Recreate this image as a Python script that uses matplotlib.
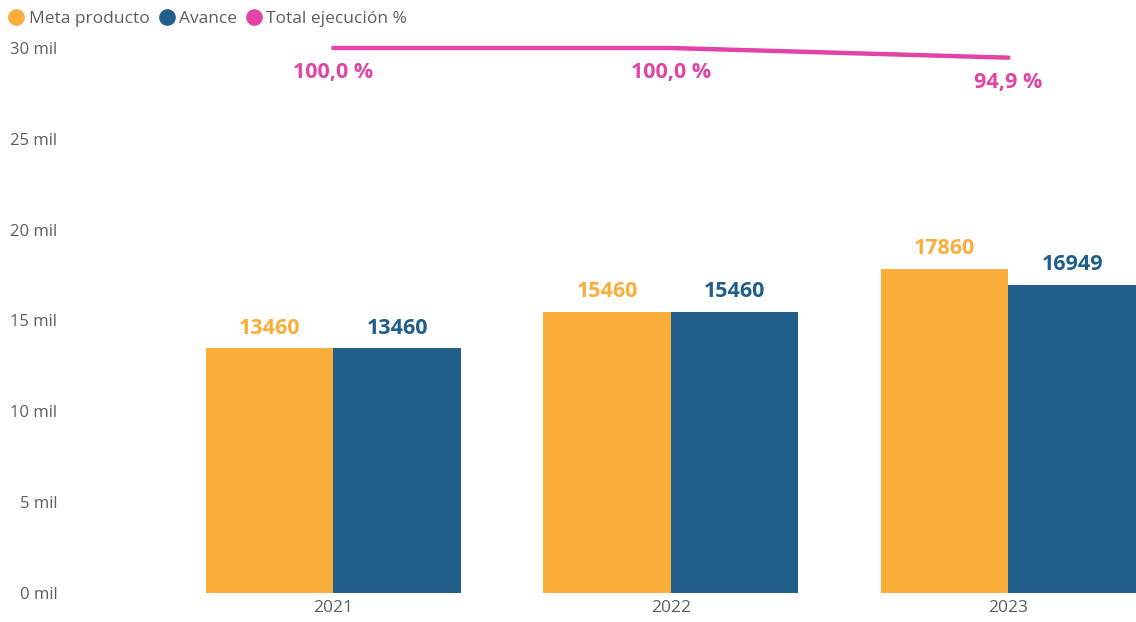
import matplotlib.pyplot as plt
import numpy as np
from matplotlib.ticker import FuncFormatter
from matplotlib.lines import Line2D

# datos
years = ['2021', '2022', '2023']
meta = [13460, 15460, 17860]
avance = [13460, 15460, 16949]
ejecucion = [100.0, 100.0, 94.9]
y_ticks = [0, 5000, 10000, 15000, 20000, 25000, 30000]

c_meta = '#F9AE3B'
c_avance = '#215F8A'
c_pct = '#E044A7'
c_text = '#605E5C'

plt.rcParams['font.family'] = ['Open Sans', 'DejaVu Sans']

fig = plt.figure(figsize=(11.36, 6.22), dpi=100)
# ejes en pixeles: izquierda 70, derecha 1136, abajo 593, arriba 48
ax = fig.add_axes([70 / 1136, (622 - 593) / 622, (1136 - 70) / 1136, (593 - 48) / 622])

x = np.arange(len(years))
w = 0.378
b1 = ax.bar(x - w / 2, meta, w, color=c_meta)
b2 = ax.bar(x + w / 2, avance, w, color=c_avance)

for bar, v in zip(b1, meta):
    ax.annotate(f'{v}', (bar.get_x() + bar.get_width() / 2, v), xytext=(0, 7),
                textcoords='offset points', ha='center', va='bottom',
                color=c_meta, fontsize=15.5, fontweight='bold')
for bar, v in zip(b2, avance):
    ax.annotate(f'{v}', (bar.get_x() + bar.get_width() / 2, v), xytext=(0, 7),
                textcoords='offset points', ha='center', va='bottom',
                color=c_avance, fontsize=15.5, fontweight='bold')

ax.set_ylim(0, 30000)
ax.set_xlim(-0.78, 2.378)
ax.set_yticks(y_ticks)
ax.yaxis.set_major_formatter(FuncFormatter(lambda v, p: f'{v / 1000:.0f} mil'))
ax.set_xticks(x)
ax.set_xticklabels(years)
ax.tick_params(axis='both', length=0, colors=c_text)
ax.tick_params(axis='y', labelsize=12, pad=9)
ax.tick_params(axis='x', labelsize=12.5, pad=5)
for s in ax.spines.values():
    s.set_visible(False)

# eje secundario para el porcentaje
ax2 = ax.twinx()
ax2.plot(x, ejecucion, color=c_pct, linewidth=3.2, solid_capstyle='round', clip_on=False)
ax2.set_ylim(-187, 100)
ax2.axis('off')
for xi, v in zip(x, ejecucion):
    ax2.annotate(f'{v:.1f} %'.replace('.', ','), (xi, v), xytext=(0, -10),
                 textcoords='offset points', ha='center', va='top',
                 color=c_pct, fontsize=15.5, fontweight='bold')

# leyenda
handles = [Line2D([], [], marker='o', linestyle='', markersize=11, color=c)
           for c in [c_meta, c_avance, c_pct]]
fig.legend(handles, ['Meta producto', 'Avance', 'Total ejecución %'],
           loc='upper left', bbox_to_anchor=(0.0, 0.995), ncol=3, frameon=False,
           handlelength=1.0, handletextpad=0.2, columnspacing=0.5, fontsize=12.5,
           labelcolor=c_text, borderaxespad=0.25, borderpad=0.2)

fig.savefig('out.png', dpi=100)
